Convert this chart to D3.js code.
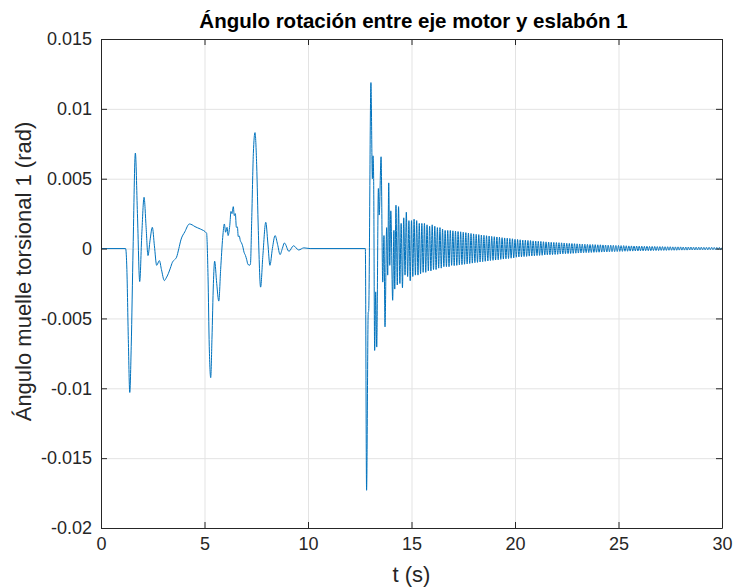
<!DOCTYPE html>
<html>
<head>
<meta charset="utf-8">
<script src="https://cdn.jsdelivr.net/npm/d3@7"></script>
<style>
  html, body { margin: 0; padding: 0; background: #ffffff; }
  svg { display: block; }
  text { font-family: "Liberation Sans", Arial, Helvetica, sans-serif; }
</style>
</head>
<body>
<svg id="chart" width="735" height="588"></svg>
<script>
// Torsional spring angle between motor shaft and link 1, in rad, against time in s.

// Start-up and intermediate manoeuvres (0 – 12.77 s)
const timeOnset = [
  0, 1.19, 1.25, 1.32, 1.39, 1.46, 1.55, 1.66, 1.76, 1.87, 1.97, 2.08, 2.18, 2.27, 2.37, 2.48,
  2.58, 2.69, 2.82, 2.92, 3.06, 3.15, 3.25, 3.35, 3.45, 3.55, 3.65, 3.76, 3.86, 4.05, 4.27, 4.40,
  4.54, 4.80, 5.10, 5.17, 5.23, 5.30, 5.36, 5.43, 5.49, 5.59, 5.69, 5.78, 5.88, 5.96, 6.02, 6.09,
  6.14, 6.22, 6.28, 6.33, 6.39, 6.44, 6.49, 6.54, 6.59, 6.63, 6.68, 6.73, 6.79, 6.84, 6.91, 6.98,
  7.04, 7.09, 7.17, 7.22, 7.28, 7.36, 7.44, 7.52, 7.60, 7.71, 7.82, 7.96, 8.06, 8.16, 8.28, 8.41,
  8.53, 8.65, 8.76, 8.86, 9.08, 9.30, 9.55, 9.80, 10.10, 12.77
];
const angleOnset = [
  0, 0, -0.0015, -0.0065, -0.0103, -0.0070, 0.0000, 0.00684, 0.0025, -0.00236, 0.0010, 0.00367, 0.0015, -0.0005, 0.0006, 0.00152,
  0.0002, -0.0012, -0.00086, -0.0015, -0.00229, -0.0021, -0.0018, -0.0014, -0.00098, -0.0008, -0.00062, 0.0000, 0.00062, 0.0012, 0.00176, 0.0017,
  0.00157, 0.0014, 0.0011, -0.0020, -0.0070, -0.00924, -0.0065, -0.0025, -0.0009, -0.0025, -0.00376, -0.0015, 0.0008, 0.00176, 0.00117, 0.00152,
  0.00093, 0.00164, 0.00266, 0.0025, 0.0030, 0.00236, 0.0025, 0.00152, 0.00155, 0.00086, 0.0009, 0.00057, 0.0004, 0.0002, -0.00026, -0.0005,
  -0.0008, -0.0011, -0.0012, -0.0011, 0.0020, 0.0068, 0.0083, 0.0060, 0.0013, -0.00276, -0.0005, 0.00188, 0.0004, -0.0012, 0.0000, 0.00093,
  0.0003, -0.00043, 0.0000, 0.0004, -0.0002, 0.0002, -0.0001, 0.00005, 0, 0
];

// Impact transient (12.83 – 14.19 s)
const timeImpact = [
  12.83, 12.91, 12.93, 13.04, 13.11, 13.14, 13.17, 13.22, 13.27, 13.32, 13.40, 13.44, 13.53, 13.61,
  13.67, 13.72, 13.80, 13.85, 13.90, 13.95, 14.00, 14.09, 14.15, 14.19
];
const angleImpact = [
  -0.0173, -0.00455, -0.0045, 0.01188, 0.0050, 0.00664, 0.0052, -0.00729, -0.0031, -0.00705, 0.0043, 0.0024, 0.00657, -0.0024,
  0.00093, -0.0056, 0.0015, -0.0019, 0.0047, -0.0012, 0.0027, -0.0037, 0.0013, -0.0029
];

// Residual oscillation peaks (14.25 – 30 s)
const timeTail = [
  14.250, 14.313, 14.375, 14.438, 14.500, 14.563, 14.625, 14.688, 14.750, 14.813, 14.875, 14.938,
  15.000, 15.063, 15.125, 15.188, 15.250, 15.313, 15.375, 15.438, 15.500, 15.563, 15.625, 15.688, 15.750, 15.813, 15.875, 15.938,
  16.000, 16.063, 16.125, 16.188, 16.250, 16.313, 16.375, 16.438, 16.500, 16.563, 16.625, 16.688, 16.750, 16.813, 16.875, 16.938,
  17.000, 17.063, 17.125, 17.188, 17.250, 17.313, 17.375, 17.438, 17.500, 17.563, 17.625, 17.688, 17.750, 17.813, 17.875, 17.938,
  18.000, 18.063, 18.125, 18.188, 18.250, 18.313, 18.375, 18.438, 18.500, 18.563, 18.625, 18.688, 18.750, 18.813, 18.875, 18.938,
  19.000, 19.063, 19.125, 19.188, 19.250, 19.313, 19.375, 19.438, 19.500, 19.563, 19.625, 19.688, 19.750, 19.813, 19.875, 19.938,
  20.000, 20.063, 20.125, 20.188, 20.250, 20.313, 20.375, 20.438, 20.500, 20.563, 20.625, 20.688, 20.750, 20.813, 20.875, 20.938,
  21.000, 21.063, 21.125, 21.188, 21.250, 21.313, 21.375, 21.438, 21.500, 21.563, 21.625, 21.688, 21.750, 21.813, 21.875, 21.938,
  22.000, 22.063, 22.125, 22.188, 22.250, 22.313, 22.375, 22.438, 22.500, 22.563, 22.625, 22.688, 22.750, 22.813, 22.875, 22.938,
  23.000, 23.063, 23.125, 23.188, 23.250, 23.313, 23.375, 23.438, 23.500, 23.563, 23.625, 23.688, 23.750, 23.813, 23.875, 23.938,
  24.000, 24.063, 24.125, 24.188, 24.250, 24.313, 24.375, 24.438, 24.500, 24.563, 24.625, 24.688, 24.750, 24.813, 24.875, 24.938,
  25.000, 25.063, 25.125, 25.188, 25.250, 25.313, 25.375, 25.438, 25.500, 25.563, 25.625, 25.688, 25.750, 25.813, 25.875, 25.938,
  26.000, 26.063, 26.125, 26.188, 26.250, 26.313, 26.375, 26.438, 26.500, 26.563, 26.625, 26.688, 26.750, 26.813, 26.875, 26.938,
  27.000, 27.063, 27.125, 27.188, 27.250, 27.313, 27.375, 27.438, 27.500, 27.563, 27.625, 27.688, 27.750, 27.813, 27.875, 27.938,
  28.000, 28.063, 28.125, 28.188, 28.250, 28.313, 28.375, 28.438, 28.500, 28.563, 28.625, 28.688, 28.750, 28.813, 28.875, 28.938,
  29.000, 29.063, 29.125, 29.188, 29.250, 29.313, 29.375, 29.438, 29.500, 29.563, 29.625, 29.688, 29.750, 29.813, 29.875, 29.938,
  30.000
];
const angleTail = [
  0.0031, -0.0026, 0.0030, -0.0025, 0.0018, -0.0028, 0.0022, -0.0019, 0.0026, -0.0020, 0.0020, -0.0023,
  0.0020, -0.0020, 0.0021, -0.0019, 0.0020, -0.0019, 0.0018, -0.0018, 0.0018, -0.0017, 0.0018, -0.0017, 0.0017, -0.0016, 0.0016, -0.0016,
  0.0017, -0.0015, 0.0016, -0.0015, 0.0015, -0.0014, 0.0015, -0.0014, 0.0014, -0.0013, 0.0013, -0.0013, 0.0013, -0.0013, 0.0013, -0.0012,
  0.00127, -0.00122, 0.00125, -0.00120, 0.00122, -0.00117, 0.00120, -0.00115, 0.00117, -0.00112, 0.00114, -0.00110, 0.00111, -0.00107, 0.00108, -0.00104,
  0.00105, -0.00101, 0.00102, -0.00099, 0.00100, -0.00096, 0.00097, -0.00094, 0.00095, -0.00091, 0.00092, -0.00089, 0.00090, -0.00086, 0.00087, -0.00084,
  0.00085, -0.00082, 0.00083, -0.00080, 0.00081, -0.00077, 0.00078, -0.00075, 0.00076, -0.00073, 0.00074, -0.00071, 0.00072, -0.00069, 0.00070, -0.00067,
  0.00066, -0.00062, 0.00065, -0.00060, 0.00063, -0.00059, 0.00061, -0.00057, 0.00060, -0.00056, 0.00058, -0.00054, 0.00057, -0.00053, 0.00055, -0.00052,
  0.00054, -0.00050, 0.00052, -0.00049, 0.00051, -0.00048, 0.00049, -0.00046, 0.00048, -0.00045, 0.00047, -0.00044, 0.00045, -0.00043, 0.00044, -0.00042,
  0.00043, -0.00041, 0.00042, -0.00039, 0.00041, -0.00038, 0.00040, -0.00037, 0.00038, -0.00036, 0.00037, -0.00035, 0.00036, -0.00034, 0.00035, -0.00033,
  0.00034, -0.00032, 0.00033, -0.00031, 0.00032, -0.00030, 0.00031, -0.00029, 0.00030, -0.00029, 0.00029, -0.00028, 0.00029, -0.00027, 0.00028, -0.00026,
  0.00027, -0.00026, 0.00027, -0.00025, 0.00026, -0.00024, 0.00025, -0.00024, 0.00024, -0.00023, 0.00024, -0.00022, 0.00023, -0.00022, 0.00022, -0.00021,
  0.00022, -0.00020, 0.00021, -0.00020, 0.00021, -0.00019, 0.00020, -0.00019, 0.00019, -0.00018, 0.00019, -0.00018, 0.00018, -0.00017, 0.00018, -0.00017,
  0.00017, -0.00016, 0.00017, -0.00016, 0.00016, -0.00015, 0.00016, -0.00015, 0.00015, -0.00015, 0.00015, -0.00014, 0.00015, -0.00014, 0.00014, -0.00014,
  0.00014, -0.00013, 0.00014, -0.00013, 0.00013, -0.00013, 0.00013, -0.00012, 0.00013, -0.00012, 0.00012, -0.00012, 0.00012, -0.00012, 0.00012, -0.00011,
  0.00012, -0.00011, 0.00011, -0.00011, 0.00011, -0.00011, 0.00011, -0.00010, 0.00011, -0.00010, 0.00010, -0.00010, 0.00010, -0.00010, 0.00010, -0.00009,
  0.00010, -0.00009, 0.00009, -0.00009, 0.00009, -0.00009, 0.00009, -0.00008, 0.00009, -0.00008, 0.00008, -0.00008, 0.00008, -0.00008, 0.00008, -0.00007,
  0.00007
];

// Axis ticks and labels
const xTicks = [0, 5, 10, 15, 20, 25, 30];
const xTickLabels = ["0", "5", "10", "15", "20", "25", "30"];
const yTicks = [-0.02, -0.015, -0.01, -0.005, 0, 0.005, 0.01, 0.015];
const yTickLabels = ["-0.02", "-0.015", "-0.01", "-0.005", "0", "0.005", "0.01", "0.015"];

const titleText = "Ángulo rotación entre eje motor y eslabón 1";
const xLabelText = "t (s)";
const yLabelText = "Ángulo muelle torsional 1 (rad)";

// Layout
const W = 735, H = 588;
const margin = { left: 101, right: 13, top: 39, bottom: 60 };
const plotW = W - margin.left - margin.right;
const plotH = H - margin.top - margin.bottom;

const axisColor = "#262626";
const gridColor = "#e3e3e3";
const lineColor = "#0072bd";
const tickLen = 6;

const svg = d3.select("#chart");
svg.append("rect").attr("width", W).attr("height", H).attr("fill", "#ffffff");

const x = d3.scaleLinear().domain([0, 30]).range([0, plotW]);
const y = d3.scaleLinear().domain([-0.02, 0.015]).range([plotH, 0]);

const g = svg.append("g").attr("transform", `translate(${margin.left},${margin.top})`);

// Grid
const grid = g.append("g").attr("class", "grid");
grid.append("g")
  .attr("transform", `translate(0,${plotH})`)
  .call(d3.axisBottom(x).tickValues(xTicks).tickSize(-plotH).tickFormat(""))
  .call(s => s.select(".domain").remove())
  .call(s => s.selectAll("line").attr("stroke", gridColor).attr("stroke-width", 1));
grid.append("g")
  .call(d3.axisLeft(y).tickValues(yTicks).tickSize(-plotW).tickFormat(""))
  .call(s => s.select(".domain").remove())
  .call(s => s.selectAll("line").attr("stroke", gridColor).attr("stroke-width", 1));

// Signal
const samples = [];
timeOnset.forEach((t, i) => samples.push({ t, v: angleOnset[i] }));
timeImpact.forEach((t, i) => samples.push({ t, v: angleImpact[i] }));
timeTail.forEach((t, i) => samples.push({ t, v: angleTail[i] }));

svg.append("clipPath").attr("id", "plotClip")
  .append("rect").attr("width", plotW).attr("height", plotH);

const line = d3.line()
  .x(d => x(d.t))
  .y(d => y(d.v))
  .curve(d3.curveMonotoneX);

g.append("path")
  .datum(samples)
  .attr("clip-path", "url(#plotClip)")
  .attr("fill", "none")
  .attr("stroke", lineColor)
  .attr("stroke-width", 1)
  .attr("stroke-linejoin", "round")
  .attr("d", line);

// Axes with inward ticks on all four sides
function styleAxis(s) {
  s.select(".domain").attr("stroke", axisColor).attr("stroke-width", 1);
  s.selectAll(".tick line").attr("stroke", axisColor).attr("stroke-width", 1);
  s.selectAll(".tick text")
    .attr("fill", axisColor)
    .style("font-family", '"Liberation Sans", Arial, Helvetica, sans-serif')
    .style("font-size", "18px");
}

g.append("g")
  .attr("transform", `translate(0,${plotH})`)
  .call(d3.axisBottom(x).tickValues(xTicks).tickFormat((d, i) => xTickLabels[i])
    .tickSizeInner(-tickLen).tickSizeOuter(0).tickPadding(9))
  .call(styleAxis);

g.append("g")
  .call(d3.axisTop(x).tickValues(xTicks).tickFormat("")
    .tickSizeInner(-tickLen).tickSizeOuter(0))
  .call(styleAxis);

g.append("g")
  .call(d3.axisLeft(y).tickValues(yTicks).tickFormat((d, i) => yTickLabels[i])
    .tickSizeInner(-tickLen).tickSizeOuter(0).tickPadding(9))
  .call(styleAxis);

g.append("g")
  .attr("transform", `translate(${plotW},0)`)
  .call(d3.axisRight(y).tickValues(yTicks).tickFormat("")
    .tickSizeInner(-tickLen).tickSizeOuter(0))
  .call(styleAxis);

// Title and axis labels
svg.append("text")
  .attr("x", margin.left + plotW / 2 + 2)
  .attr("y", 28)
  .attr("text-anchor", "middle")
  .attr("fill", "#000000")
  .style("font-size", "20.5px")
  .style("font-weight", "bold")
  .text(titleText);

svg.append("text")
  .attr("x", margin.left + plotW / 2)
  .attr("y", 582)
  .attr("text-anchor", "middle")
  .attr("fill", axisColor)
  .style("font-size", "22px")
  .text(xLabelText);

svg.append("text")
  .attr("transform", `translate(31,${margin.top + plotH / 2 - 12}) rotate(-90)`)
  .attr("text-anchor", "middle")
  .attr("fill", axisColor)
  .style("font-size", "22px")
  .text(yLabelText);
</script>
</body>
</html>
